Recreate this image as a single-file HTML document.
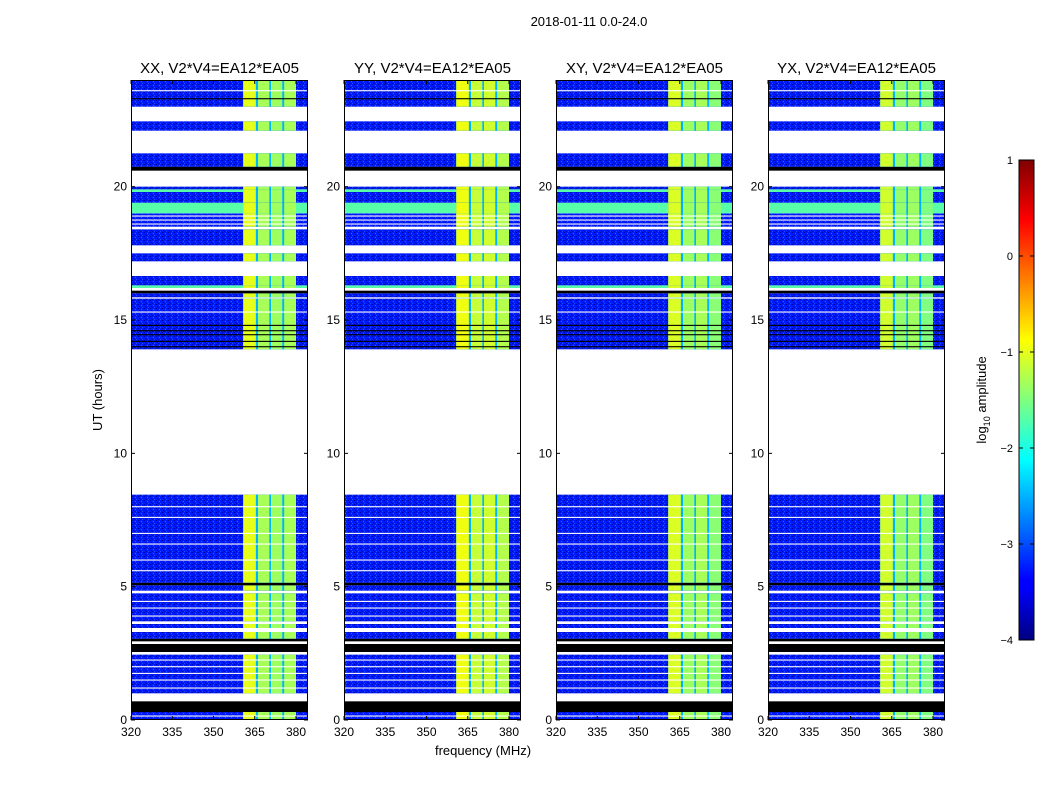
<!DOCTYPE html>
<html><head><meta charset="utf-8">
<style>
body{margin:0;background:#fff;}
svg text{font-family:"Liberation Sans",sans-serif;fill:#000;}
</style></head>
<body>
<svg id="fig" width="1050" height="800" viewBox="0 0 1050 800" xmlns="http://www.w3.org/2000/svg">
<defs>
<pattern id="noise" width="6" height="4" patternUnits="userSpaceOnUse">
<rect x="0" y="0" width="1" height="1" fill="#000070" opacity="0.7"/>
<rect x="3" y="1" width="1" height="1" fill="#3c8cff" opacity="0.7"/>
<rect x="1" y="2" width="1" height="1" fill="#0000a0" opacity="0.7"/>
<rect x="4" y="3" width="1" height="1" fill="#2870ff" opacity="0.6"/>
<rect x="5" y="0" width="1" height="1" fill="#0010c0" opacity="0.6"/>
<rect x="2" y="3" width="1" height="1" fill="#000090" opacity="0.6"/>
</pattern>
<linearGradient id="jet" x1="0" y1="1" x2="0" y2="0">
<stop offset="0" stop-color="#000080"/><stop offset="0.11" stop-color="#0000ff"/>
<stop offset="0.125" stop-color="#0000ff"/><stop offset="0.375" stop-color="#00ffff"/>
<stop offset="0.625" stop-color="#ffff00"/><stop offset="0.875" stop-color="#ff0000"/>
<stop offset="1" stop-color="#800000"/>
</linearGradient>
</defs>
<text x="589" y="26" font-size="13" text-anchor="middle">2018-01-11 0.0-24.0</text>
<g id="panels"></g>
<text transform="translate(102,400) rotate(-90)" font-size="13" text-anchor="middle">UT (hours)</text>
<text x="483" y="755" font-size="13" text-anchor="middle">frequency (MHz)</text>
<g>
<rect x="1019" y="160" width="15" height="480" fill="url(#jet)" stroke="#000" stroke-width="1"/>
<g id="cbticks"></g>
<text transform="translate(986,400) rotate(-90)" font-size="13" text-anchor="middle">log<tspan font-size="9" dy="4">10</tspan><tspan dy="-4"> amplitude</tspan></text>
</g>
</svg>
<script>
const panelTitles = ["XX, V2*V4=EA12*EA05","YY, V2*V4=EA12*EA05","XY, V2*V4=EA12*EA05","YX, V2*V4=EA12*EA05"];
const xTicks = [320,335,350,365,380];
const yTicks = [0,5,10,15,20];
const cbTicks = [1,0,-1,-2,-3,-4];
const bgLevel = -3.25;
const stripeLevel = -2.5;
const bandStart = [360.8,366.2,370.9,375.7];
const bandEnd = [365.4,370.3,375.0,380.0];
const bandLevelsXX = [-1.0,-1.3,-1.35,-1.3];
const bandLevelsYY = [-0.95,-1.15,-1.1,-1.25];
const bandLevelsXY = [-1.05,-1.35,-1.3,-1.45];
const bandLevelsYX = [-1.1,-1.4,-1.35,-1.5];
// segments: start hour, end hour, kind (d=data, w=blank, k=black, g=bright row)
const segStart = [0,0.3,0.7,1.0,2.45,2.55,2.85,2.95,3.05,3.3,3.45,3.6,3.7,4.75,4.85,5.05,5.15,8.45,13.9,15.0,15.8,15.85,16.0,16.1,16.2,16.3,16.65,17.2,17.5,17.8,18.4,18.5,19.0,19.4,19.8,19.9,20.0,20.6,20.75,21.25,22.1,22.45,23.0];
const segEnd   = [0.3,0.7,1.0,2.45,2.55,2.85,2.95,3.05,3.3,3.45,3.6,3.7,4.75,4.85,5.05,5.15,8.45,13.9,15.0,15.8,15.85,16.0,16.1,16.2,16.3,16.65,17.2,17.5,17.8,18.4,18.5,19.0,19.4,19.8,19.9,20.0,20.6,20.75,21.25,22.1,22.45,23.0,24.0];
const segKind  = ["d","k","w","d","w","k","w","k","d","w","d","w","d","w","d","k","d","w","d","d","w","d","k","w","g","d","w","d","w","d","w","d","g","d","g","d","w","k","d","w","d","w","d"];
const thinHours = [0.15,1.2,1.5,1.75,2.0,2.25,3.9,4.2,4.45,5.6,6.0,6.6,7.0,7.6,8.0,14.0,14.2,14.45,14.6,14.8,15.3,18.6,18.75,18.9,23.3,23.6];
const thinKind  = ["w","w","w","w","w","w","w","w","w","w","w","w","w","w","w","k","k","k","k","k","w","w","w","w","k","w"];

const panelX = [131,344,556,768], PW=177, Y0=720, Y1=80;
const bandSets=[bandLevelsXX,bandLevelsYY,bandLevelsXY,bandLevelsYX];
function xs(px0,f){return px0+(f-320)*2.75;}
function ys(h){return Y0-h*(Y0-Y1)/24;}
function jet(v){let t=(v+4)/5;t=Math.max(0,Math.min(1,t));
 const c=x=>Math.round(255*Math.max(0,Math.min(1,1.5-Math.abs(x))));
 return `rgb(${c(4*t-3)},${c(4*t-2)},${c(4*t-1)})`;}
const NS="http://www.w3.org/2000/svg";
const root=document.getElementById('panels');
function mk(tag,attrs,parent){const e=document.createElementNS(NS,tag);for(const k in attrs)e.setAttribute(k,attrs[k]);parent.appendChild(e);return e;}

panelX.forEach((px0,p)=>{
 const g=mk('g',{},root);
 
 
 const bands=bandSets[p];
 for(let i=0;i<segStart.length;i++){
  const yTop=ys(segEnd[i]), yBot=ys(segStart[i]), h=yBot-yTop, k=segKind[i];
  if(k==='w') continue;
  if(k==='k'){const r=mk('rect',{x:px0,y:yTop,width:PW,height:h,fill:'#000'},g);
   continue;}
  const lvl = k==='g'? -1.7 : bgLevel;
  const r=mk('rect',{x:px0,y:yTop,width:PW,height:h,fill:jet(lvl)},g);
  
  
  if(k!=='g'){
   const n=mk('rect',{x:px0,y:yTop,width:PW,height:h,fill:'url(#noise)'},g);
   
   
  }
  const s=mk('rect',{x:xs(px0,bandStart[0]),y:yTop,width:xs(px0,bandEnd[3])-xs(px0,bandStart[0]),height:h,fill:jet(stripeLevel)},g);
  
  
  bands.forEach((bl,b)=>{
   const c=mk('rect',{x:xs(px0,bandStart[b]),y:yTop,width:xs(px0,bandEnd[b])-xs(px0,bandStart[b]),height:h,fill:jet(bl)},g);
   
   
  });
 }
 thinHours.forEach((hh,i)=>{
  const l=mk('rect',{x:px0,y:ys(hh)-0.5,width:PW,height:1.1,fill:thinKind[i]==='k'?'#000':'#fff'},g);
  
  
 });
 const fr=mk('rect',{x:px0+0.5,y:Y1+0.5,width:PW-1,height:Y0-Y1-1,fill:'none',stroke:'#000','stroke-width':1},g);
 
 
 const t=mk('text',{x:px0+PW/2,y:73,'font-size':15,'text-anchor':'middle'},g);
 t.textContent=panelTitles[p];
 
 
 xTicks.forEach(v=>{const x=xs(px0,v);
  mk('line',{x1:x,x2:x,y1:Y0,y2:Y0-4,stroke:'#000'},g);
  mk('line',{x1:x,x2:x,y1:Y1,y2:Y1+4,stroke:'#000'},g);
  const tt=mk('text',{x:x,y:Y0+16,'font-size':12,'text-anchor':'middle'},g);tt.textContent=v;
  
  });
 yTicks.forEach(v=>{const y=ys(v);
  mk('line',{x1:px0,x2:px0+4,y1:y,y2:y,stroke:'#000'},g);
  mk('line',{x1:px0+PW,x2:px0+PW-4,y1:y,y2:y,stroke:'#000'},g);
  const tt=mk('text',{x:px0-4,y:y+4,'font-size':12,'text-anchor':'end'},g);tt.textContent=v;
  
  });
});
const cb=document.getElementById('cbticks');
cbTicks.forEach(v=>{const y=640-(v+4)*96;
 mk('line',{x1:1019,x2:1023,y1:y,y2:y,stroke:'#000'},cb);
 mk('line',{x1:1034,x2:1030,y1:y,y2:y,stroke:'#000'},cb);
 const t=mk('text',{x:1013,y:y+4,'font-size':11,'text-anchor':'end'},cb);
 t.textContent=v<0?'\u2212'+(-v):String(v);
 
 
});
</script>
</body></html>
